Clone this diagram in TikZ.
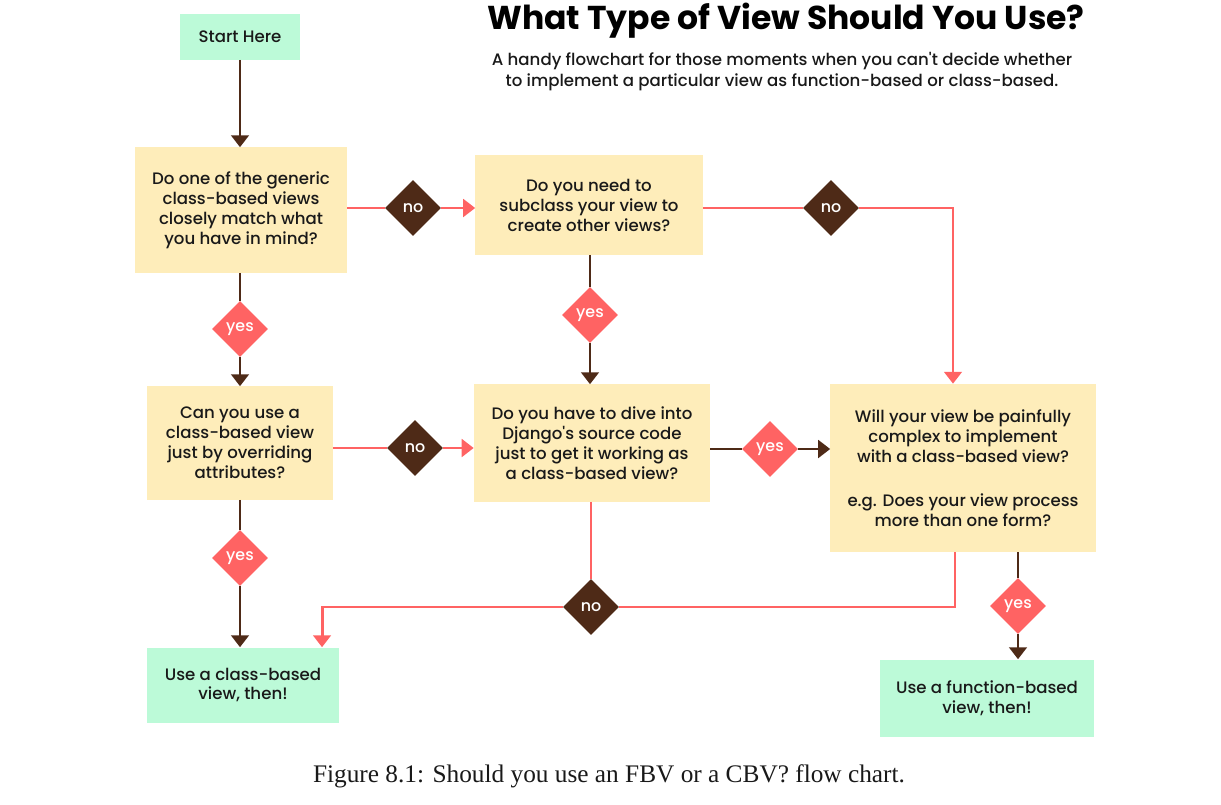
\documentclass[tikz,border=0pt]{standalone}
\usepackage{fontspec}
\setmainfont{Poppins}[Ligatures=TeXOff]
\newfontfamily\medfont{Poppins Medium}[Ligatures=TeXOff]
\newfontfamily\capfont{Liberation Serif}
\usetikzlibrary{shapes.geometric,arrows.meta}
\definecolor{Ask}{RGB}{254,237,186}
\definecolor{Done}{RGB}{188,250,216}
\definecolor{Brn}{RGB}{78,42,23}
\definecolor{Salmon}{RGB}{255,99,99}
\definecolor{Ink}{RGB}{25,25,25}
\tikzset{
  ask/.style={fill=Ask,text=Ink,align=center,inner sep=0pt,font=\medfont\fontsize{11.8}{14.2}\selectfont},
  done/.style={ask,fill=Done},
  yesdia/.style={shape=diamond,fill=Salmon,text=white,minimum width=1.4cm,minimum height=1.4cm,inner sep=0pt,font=\medfont\fontsize{11.3}{12}\selectfont},
  nodia/.style={yesdia,fill=Brn},
  brline/.style={draw=Brn,line width=2.1pt},
  rdline/.style={draw=Salmon,line width=2.1pt},
  tip/.style={-{Triangle[width=12.5pt,length=8.5pt]}}
}
\begin{document}
\begin{tikzpicture}[x=0.025cm,y=-0.025cm]
\useasboundingbox (0,0) rectangle (1221,804);
% headings
\node (title) at (786,21) {\fontsize{23.5}{26}\selectfont\bfseries What Type of View Should You Use?};
\node[align=center,text=Ink,font=\medfont\fontsize{11.8}{15}\selectfont] (sub) at (782,72) {A handy flowchart for those moments when you can't decide whether\\to implement a particular view as function-based or class-based.};
\node[text=Ink] (cap) at (609,776) {\capfont\fontsize{18}{20}\selectfont Figure 8.1: Should you use an FBV or a CBV? flow chart.};
% boxes
\node[done,minimum width=3cm,minimum height=1.125cm] (start) at (240,37) {Start Here};
\node[ask,minimum width=5.3cm,minimum height=3.125cm] (A) at (241,210) {Do one of the generic\\class-based views\\closely match what\\you have in mind?};
\node[ask,minimum width=5.675cm,minimum height=2.475cm] (B) at (589,205) {Do you need to\\subclass your view to\\create other views?};
\node[ask,minimum width=4.625cm,minimum height=2.825cm] (C) at (240,443) {Can you use a\\class-based view\\just by overriding\\attributes?};
\node[ask,minimum width=5.9cm,minimum height=2.925cm] (E) at (592,443) {Do you have to dive into\\Django's source code\\just to get it working as\\a class-based view?};
\node[ask,minimum width=6.625cm,minimum height=4.2cm] (D) at (963,468) {Will your view be painfully\\complex to implement\\with a class-based view?\\[17pt]e.g. Does your view process\\more than one form?};
\node[done,minimum width=4.775cm,minimum height=1.875cm] (F) at (243,685) {Use a class-based\\view, then!};
\node[done,minimum width=5.325cm,minimum height=1.925cm] (G) at (987,698) {Use a function-based\\view, then!};
% decisions
\node[nodia] (nA) at (413,208) {no};
\node[nodia] (nB) at (831,208) {no};
\node[yesdia] (yA) at (240,329) {yes};
\node[yesdia] (yB) at (590,315) {yes};
\node[nodia] (nC) at (415,448) {no};
\node[yesdia] (yE) at (770,449) {yes};
\node[yesdia] (yC) at (240,558) {yes};
\node[nodia] (nE) at (591,607) {no};
\node[yesdia] (yD) at (1018,606) {yes};
% connectors
\draw[brline,tip] (start.south) -- (start.south |- A.north);
\draw[brline] (yA.north |- A.south) -- (yA.north); \draw[brline,tip] (yA.south) -- (yA.south |- C.north);
\draw[brline] (yC.north |- C.south) -- (yC.north); \draw[brline,tip] (yC.south) -- (yC.south |- F.north);
\draw[brline] (yB.north |- B.south) -- (yB.north); \draw[brline,tip] (yB.south) -- (yB.south |- E.north);
\draw[brline] (E.east |- yE) -- (yE.west); \draw[brline,tip] (yE.east) -- (yE -| D.west);
\draw[brline] (yD.north |- D.south) -- (yD.north); \draw[brline,tip] (yD.south) -- (yD.south |- G.north);
\draw[rdline] (A.east |- nA) -- (nA.west); \draw[rdline,tip] (nA.east) -- (nA -| B.west);
\draw[rdline] (B.east |- nB) -- (nB.west); \draw[rdline,tip] (nB.east) -| ([xshift=-0.25cm]D.north);
\draw[rdline] (C.east |- nC) -- (nC.west); \draw[rdline,tip] (nC.east) -- (nC -| E.west);
\draw[rdline] (nE.north |- E.south) -- (nE.north);
\draw[rdline] ([xshift=-0.2cm]D.south) |- (nE.east);
\draw[rdline,tip] (nE.west) -| ([xshift=1.975cm]F.north);
\end{tikzpicture}
\end{document}
